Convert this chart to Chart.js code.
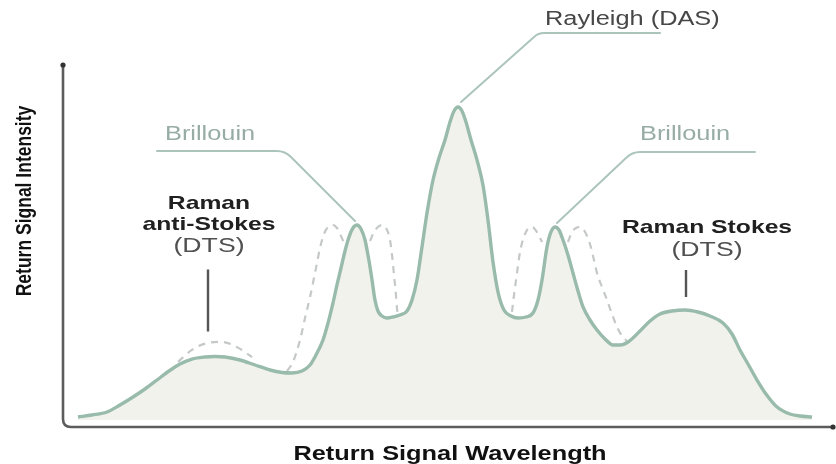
<!DOCTYPE html>
<html>
<head>
<meta charset="utf-8">
<script src="https://cdn.jsdelivr.net/npm/chart.js@4/dist/chart.umd.min.js"></script>
<style>
  html, body { margin: 0; padding: 0; background: #ffffff; }
  canvas { display: block; }
</style>
</head>
<body>
<canvas id="spectrum" width="836" height="464"></canvas>
<script>
// Backscattered light in an optical fibre: return intensity against wavelength (arbitrary units)
const wavelength = [1.94, 3.76, 5.70, 7.38, 9.07, 10.62, 12.18, 13.73, 15.16, 16.71,
  18.39, 19.69, 20.98, 22.93, 24.87, 26.81, 28.37, 29.66, 30.96, 32.00,
  32.77, 33.68, 34.33, 34.97, 35.49, 36.01, 36.53, 37.05, 37.56, 38.08,
  38.60, 39.12, 39.64, 40.03, 40.41, 40.80, 41.32, 41.97, 42.75, 43.65,
  44.56, 45.21, 45.85, 46.50, 47.15, 47.93, 48.70, 49.48, 50.13, 50.65,
  51.17, 51.68, 52.20, 52.85, 53.63, 54.40, 55.05, 55.70, 56.35, 57.12,
  58.03, 58.94, 59.97, 60.88, 61.53, 62.05, 62.69, 63.21, 63.73, 64.25,
  64.77, 65.41, 66.06, 66.71, 67.36, 68.26, 69.17, 70.21, 71.24, 72.15,
  73.19, 74.74, 76.04, 77.33, 78.89, 80.57, 82.25, 83.81, 85.49, 86.66,
  87.69, 88.73, 89.90, 91.06, 92.49, 94.17, 95.47, 97.02];
const intensity = [2.76, 3.31, 4.14, 6.08, 8.29, 10.50, 12.98, 15.47, 17.40, 18.78,
  19.34, 19.48, 19.34, 18.51, 17.13, 15.75, 15.06, 14.92, 15.47, 17.13,
  19.89, 24.03, 28.73, 34.25, 39.23, 43.92, 48.62, 52.49, 54.97, 55.80,
  54.70, 51.66, 45.86, 40.61, 35.08, 32.04, 30.66, 30.11, 30.39, 30.94,
  32.04, 35.08, 40.61, 49.72, 59.12, 68.23, 74.31, 79.28, 84.25, 87.29,
  88.40, 87.29, 84.25, 79.28, 73.76, 66.85, 57.18, 45.58, 37.29, 32.32,
  30.66, 30.11, 30.39, 31.49, 35.08, 40.61, 49.72, 53.87, 55.25, 54.42,
  51.66, 47.51, 42.54, 37.57, 33.15, 29.56, 26.80, 24.31, 22.65, 22.65,
  23.48, 26.52, 29.28, 31.22, 32.04, 32.32, 31.77, 30.66, 28.73, 25.69,
  21.27, 17.40, 12.98, 9.12, 5.52, 3.59, 3.04, 2.76];

// Brillouin lines shifted by temperature / strain (dashed)
const brillouinAntiLowX = [29.02, 29.79, 30.70, 31.35, 32.00, 32.51, 32.90, 33.29, 33.81, 34.33, 34.97, 35.49, 36.01, 36.40];
const brillouinAntiLowY = [15.47, 17.96, 24.03, 30.11, 35.91, 41.16, 45.30, 49.45, 53.31, 55.25, 55.80, 54.97, 52.76, 50.83];
const brillouinAntiHighX = [39.77, 40.28, 40.80, 41.32, 41.84, 42.36, 42.62, 42.88, 43.13, 43.26, 43.39];
const brillouinAntiHighY = [51.38, 53.87, 55.25, 55.80, 54.97, 51.66, 47.51, 41.99, 36.46, 32.87, 30.66];
const brillouinStokesLowX = [58.16, 58.42, 58.81, 59.07, 59.46, 59.97, 60.49, 61.01, 61.53, 62.05];
const brillouinStokesLowY = [31.77, 36.46, 42.54, 46.69, 50.83, 53.87, 55.25, 54.97, 53.31, 51.10];
const brillouinStokesHighX = [65.41, 65.93, 66.45, 66.97, 67.62, 68.26, 68.78, 69.17, 69.82, 70.47, 71.11, 71.76, 72.41, 73.06];
const brillouinStokesHighY = [51.10, 53.87, 54.97, 55.25, 53.87, 50.55, 46.13, 42.54, 38.67, 35.08, 31.22, 27.62, 25.14, 23.76];

// Temperature dependent Raman anti-Stokes band (dashed)
const ramanHotX = [14.9, 16.7, 18.7, 20.6, 22.5, 24.5];
const ramanHotY = [18.0, 21.3, 23.2, 23.5, 22.1, 19.3];
const ramanColdX = [15.2, 17.7, 20.7, 23.8];
const ramanColdY = [16.9, 16.0, 15.7, 16.6];

const peakNames = ['Rayleigh (DAS)', 'Brillouin', 'Brillouin'];
const ramanAntiLabel = ['Raman', 'anti-Stokes', '(DTS)'];
const ramanStokesLabel = ['Raman Stokes', '(DTS)'];
const axisTitles = ['Return Signal Wavelength', 'Return Signal Intensity'];

const pts = (xs, ys) => xs.map((x, i) => ({ x: x, y: ys[i] }));
const idxOfPeak = (x) => wavelength.indexOf(x);

const CURVE = 'rgb(152,187,172)';
const DASH = 'rgb(196,200,200)';
const LEADER = 'rgb(172,197,187)';
const SX = 1.3; // horizontal stretch of the lettering

function dashed(xs, ys) {
  return {
    data: pts(xs, ys), borderColor: DASH, borderWidth: 2.2, borderDash: [7, 6],
    pointRadius: 0, fill: false, cubicInterpolationMode: 'monotone'
  };
}

function wideText(ctx, text, x, y, align) {
  ctx.save();
  ctx.translate(x, y);
  ctx.scale(SX, 1);
  ctx.textAlign = align || 'center';
  ctx.fillText(text, 0, 0);
  ctx.restore();
}

const annotate = {
  id: 'annotate',
  beforeDatasetsDraw(chart) {
    const ctx = chart.ctx;
    const a = chart.chartArea;
    // axes with a rounded corner and dot ends
    ctx.save();
    ctx.strokeStyle = '#5c5c5c';
    ctx.lineWidth = 2.6;
    ctx.beginPath();
    ctx.moveTo(a.left, a.top);
    ctx.lineTo(a.left, a.bottom - 8);
    ctx.quadraticCurveTo(a.left, a.bottom, a.left + 8, a.bottom);
    ctx.lineTo(a.right - 2, a.bottom);
    ctx.stroke();
    ctx.fillStyle = '#333';
    ctx.beginPath(); ctx.arc(a.left, a.top, 2.6, 0, Math.PI * 2); ctx.fill();
    ctx.beginPath(); ctx.arc(a.right - 2, a.bottom, 2.6, 0, Math.PI * 2); ctx.fill();
    ctx.restore();
  },
  afterDatasetsDraw(chart) {
    const ctx = chart.ctx;
    const xs = chart.scales.x, ys = chart.scales.y;
    const P = (i) => ({ x: xs.getPixelForValue(wavelength[i]), y: ys.getPixelForValue(intensity[i]) });
    const ray = P(intensity.indexOf(Math.max(...intensity)));
    const bl = P(idxOfPeak(38.08));
    const br = P(idxOfPeak(63.73));
    const ra = P(idxOfPeak(19.69));
    const rs = P(idxOfPeak(80.57));

    ctx.save();
    ctx.strokeStyle = LEADER;
    ctx.lineWidth = 2;
    ctx.lineCap = 'round';
    // Rayleigh leader
    ctx.beginPath();
    ctx.moveTo(ray.x + 3, ray.y - 5);
    ctx.lineTo(ray.x + 76, ray.y - 70);
    ctx.quadraticCurveTo(ray.x + 80, ray.y - 74, ray.x + 86, ray.y - 74);
    ctx.lineTo(ray.x + 202, ray.y - 74);
    ctx.stroke();
    // left Brillouin leader
    ctx.beginPath();
    ctx.moveTo(bl.x - 2, bl.y - 4);
    ctx.lineTo(bl.x - 66, bl.y - 68);
    ctx.quadraticCurveTo(bl.x - 72, bl.y - 74, bl.x - 80, bl.y - 74);
    ctx.lineTo(bl.x - 200, bl.y - 74);
    ctx.stroke();
    // right Brillouin leader
    ctx.beginPath();
    ctx.moveTo(br.x + 2, br.y - 4);
    ctx.lineTo(br.x + 71, br.y - 69);
    ctx.quadraticCurveTo(br.x + 77, br.y - 75, br.x + 85, br.y - 75);
    ctx.lineTo(br.x + 200, br.y - 75);
    ctx.stroke();
    // Raman markers
    ctx.strokeStyle = '#555';
    ctx.lineWidth = 2.4;
    ctx.lineCap = 'butt';
    ctx.beginPath();
    ctx.moveTo(ra.x - 7, ra.y - 87); ctx.lineTo(ra.x - 7, ra.y - 25);
    ctx.moveTo(rs.x + 1, rs.y - 40); ctx.lineTo(rs.x + 1, rs.y - 13);
    ctx.stroke();
    ctx.restore();

    ctx.save();
    ctx.textBaseline = 'middle';
    ctx.fillStyle = '#474747';
    ctx.font = '19.5px "Liberation Sans", Arial, sans-serif';
    wideText(ctx, peakNames[0], ray.x + 87, ray.y - 87, 'left');
    ctx.fillStyle = '#97aca4';
    wideText(ctx, peakNames[1], bl.x - 192, bl.y - 90, 'left');
    wideText(ctx, peakNames[2], br.x + 85, br.y - 92, 'left');

    ctx.fillStyle = '#202020';
    ctx.font = 'bold 19px "Liberation Sans", Arial, sans-serif';
    wideText(ctx, ramanAntiLabel[0], ra.x - 6, ra.y - 153, 'center');
    wideText(ctx, ramanAntiLabel[1], ra.x - 6, ra.y - 132, 'center');
    wideText(ctx, ramanStokesLabel[0], rs.x + 22, rs.y - 82, 'center');
    ctx.fillStyle = '#505050';
    ctx.font = '20.5px "Liberation Sans", Arial, sans-serif';
    wideText(ctx, ramanAntiLabel[2], ra.x - 6, ra.y - 110, 'center');
    wideText(ctx, ramanStokesLabel[1], rs.x + 22, rs.y - 60, 'center');

    // axis titles
    ctx.fillStyle = '#111';
    ctx.font = 'bold 19.5px "Liberation Sans", Arial, sans-serif';
    wideText(ctx, axisTitles[0], 450, 455, 'center');
    ctx.save();
    ctx.translate(25, 201);
    ctx.scale(SX, 1);
    ctx.rotate(-Math.PI / 2);
    ctx.font = 'bold 17.5px "Liberation Sans", Arial, sans-serif';
    ctx.textAlign = 'center';
    ctx.fillText(axisTitles[1], 0, 0);
    ctx.restore();
    ctx.restore();
  }
};

new Chart(document.getElementById('spectrum'), {
  type: 'line',
  data: {
    datasets: [
      {
        data: pts(wavelength, intensity),
        borderColor: CURVE, borderWidth: 3.4,
        backgroundColor: 'rgb(242,242,237)',
        fill: { value: 1.9 },
        pointRadius: 0, cubicInterpolationMode: 'monotone'
      },
      dashed(brillouinAntiLowX, brillouinAntiLowY),
      dashed(brillouinAntiHighX, brillouinAntiHighY),
      dashed(brillouinStokesLowX, brillouinStokesLowY),
      dashed(brillouinStokesHighX, brillouinStokesHighY),
      dashed(ramanHotX, ramanHotY),
      dashed(ramanColdX, ramanColdY)
    ]
  },
  options: {
    responsive: false,
    devicePixelRatio: 1,
    animation: false,
    events: [],
    layout: { padding: { left: 63, right: 1, top: 65, bottom: 37 } },
    plugins: { legend: { display: false }, tooltip: { enabled: false } },
    scales: {
      x: { type: 'linear', min: 0, max: 100, display: false },
      y: { type: 'linear', min: 0, max: 100, display: false }
    }
  },
  plugins: [annotate]
});
</script>
</body>
</html>
